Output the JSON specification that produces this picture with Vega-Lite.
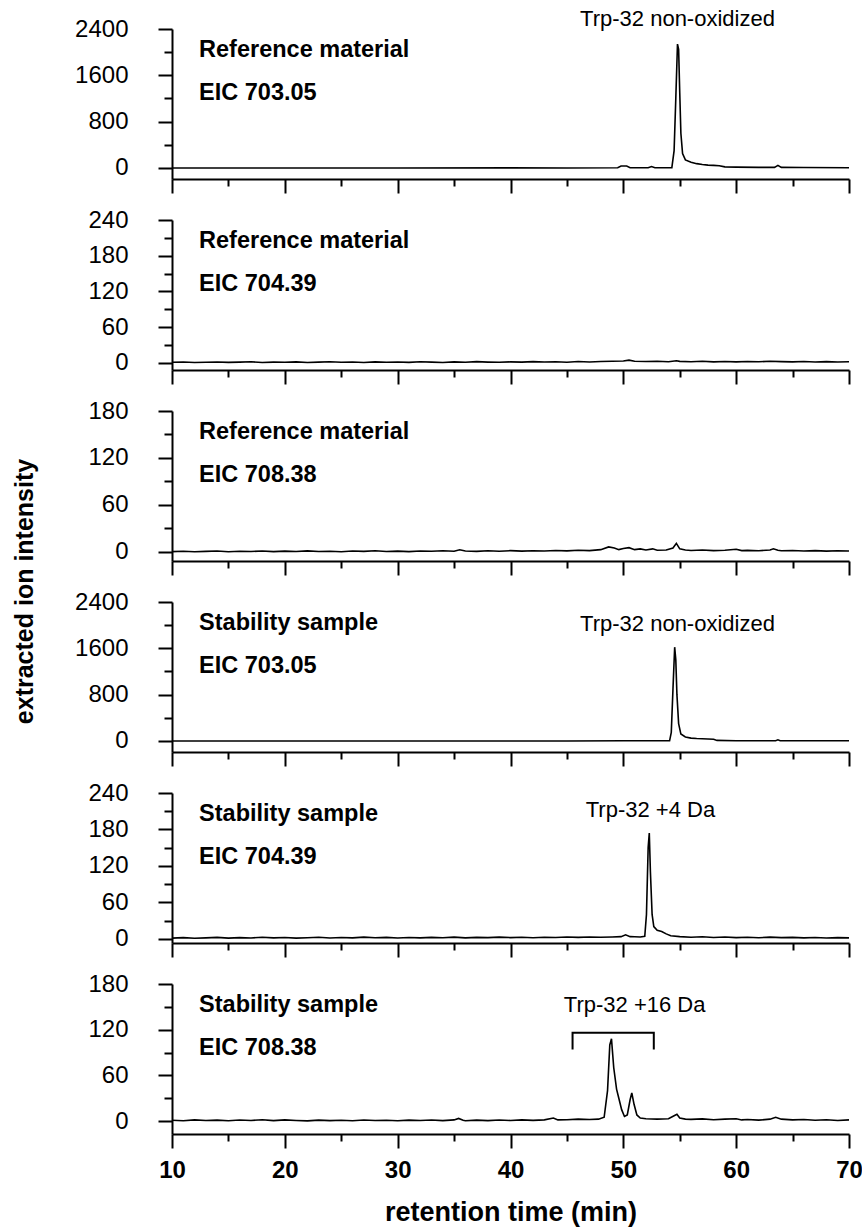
{
  "$schema": "https://vega.github.io/schema/vega-lite/v6.json",
  "padding": {"left": 12, "top": 7, "right": 0, "bottom": 2},
  "bounds": "flush",
  "spacing": 41,
  "title": {"text": "extracted ion intensity", "orient": "left", "anchor": "middle", "font": "Liberation Sans", "fontSize": 25, "fontWeight": "bold", "color": "black", "offset": 37, "dx": 25},
  "datasets": {
    "trace": [
      {"p":1,"t":10,"v":0},{"p":1,"t":20,"v":0},{"p":1,"t":30,"v":0},{"p":1,"t":40,"v":2},{"p":1,"t":45,"v":0},{"p":1,"t":49.5,"v":5},{"p":1,"t":49.8,"v":35},{"p":1,"t":50.3,"v":35},{"p":1,"t":50.6,"v":5},{"p":1,"t":52.2,"v":5},{"p":1,"t":52.5,"v":25},{"p":1,"t":52.8,"v":5},{"p":1,"t":54.3,"v":5},{"p":1,"t":54.5,"v":300},{"p":1,"t":54.65,"v":1200},{"p":1,"t":54.8,"v":2140},{"p":1,"t":54.9,"v":2050},{"p":1,"t":55.0,"v":1300},{"p":1,"t":55.1,"v":600},{"p":1,"t":55.25,"v":250},{"p":1,"t":55.5,"v":140},{"p":1,"t":56,"v":100},{"p":1,"t":56.5,"v":75},{"p":1,"t":57,"v":60},{"p":1,"t":57.5,"v":50},{"p":1,"t":58,"v":45},{"p":1,"t":58.5,"v":40},{"p":1,"t":59,"v":20},{"p":1,"t":60,"v":15},{"p":1,"t":62,"v":10},{"p":1,"t":63.4,"v":10},{"p":1,"t":63.7,"v":45},{"p":1,"t":64,"v":10},{"p":1,"t":66,"v":8},{"p":1,"t":70,"v":5},

      {"p":2,"t":10,"v":1},{"p":2,"t":11,"v":1.5},{"p":2,"t":12,"v":0.5},{"p":2,"t":13,"v":1},{"p":2,"t":14,"v":1.5},{"p":2,"t":15,"v":0.8},{"p":2,"t":16,"v":1.2},{"p":2,"t":17,"v":1.8},{"p":2,"t":18,"v":0.6},{"p":2,"t":19,"v":1.3},{"p":2,"t":20,"v":1},{"p":2,"t":21,"v":1.6},{"p":2,"t":22,"v":0.7},{"p":2,"t":23,"v":1.2},{"p":2,"t":24,"v":1.9},{"p":2,"t":25,"v":0.9},{"p":2,"t":26,"v":1.4},{"p":2,"t":27,"v":0.6},{"p":2,"t":28,"v":1.7},{"p":2,"t":29,"v":1.1},{"p":2,"t":30,"v":1.4},{"p":2,"t":31,"v":0.8},{"p":2,"t":32,"v":1.9},{"p":2,"t":33,"v":1.2},{"p":2,"t":34,"v":0.7},{"p":2,"t":35,"v":1.6},{"p":2,"t":36,"v":1.1},{"p":2,"t":37,"v":2},{"p":2,"t":38,"v":1.3},{"p":2,"t":39,"v":0.9},{"p":2,"t":40,"v":1.7},{"p":2,"t":41,"v":1.2},{"p":2,"t":42,"v":2.1},{"p":2,"t":43,"v":1.4},{"p":2,"t":44,"v":1.8},{"p":2,"t":45,"v":1.1},{"p":2,"t":46,"v":2.2},{"p":2,"t":47,"v":1.5},{"p":2,"t":48,"v":2.3},{"p":2,"t":49,"v":2.8},{"p":2,"t":50,"v":3.2},{"p":2,"t":50.5,"v":4.5},{"p":2,"t":51,"v":2.6},{"p":2,"t":52,"v":2.2},{"p":2,"t":53,"v":2.8},{"p":2,"t":54,"v":1.9},{"p":2,"t":54.7,"v":3.5},{"p":2,"t":55,"v":2.5},{"p":2,"t":56,"v":1.8},{"p":2,"t":57,"v":2.6},{"p":2,"t":58,"v":1.7},{"p":2,"t":59,"v":2.3},{"p":2,"t":60,"v":1.6},{"p":2,"t":61,"v":2.4},{"p":2,"t":62,"v":1.9},{"p":2,"t":63,"v":2.7},{"p":2,"t":64,"v":2},{"p":2,"t":65,"v":1.6},{"p":2,"t":66,"v":2.2},{"p":2,"t":67,"v":1.5},{"p":2,"t":68,"v":2},{"p":2,"t":69,"v":1.4},{"p":2,"t":70,"v":1.8},

      {"p":3,"t":10,"v":0.5},{"p":3,"t":11,"v":1},{"p":3,"t":12,"v":0.3},{"p":3,"t":13,"v":0.8},{"p":3,"t":14,"v":1.2},{"p":3,"t":15,"v":0.4},{"p":3,"t":16,"v":1},{"p":3,"t":17,"v":0.6},{"p":3,"t":18,"v":1.3},{"p":3,"t":19,"v":0.5},{"p":3,"t":20,"v":1.1},{"p":3,"t":21,"v":0.7},{"p":3,"t":22,"v":1.4},{"p":3,"t":23,"v":0.6},{"p":3,"t":24,"v":1},{"p":3,"t":25,"v":0.4},{"p":3,"t":26,"v":1.2},{"p":3,"t":27,"v":0.8},{"p":3,"t":28,"v":1.5},{"p":3,"t":29,"v":0.7},{"p":3,"t":30,"v":1.1},{"p":3,"t":31,"v":0.5},{"p":3,"t":32,"v":1.3},{"p":3,"t":33,"v":0.9},{"p":3,"t":34,"v":1.6},{"p":3,"t":35,"v":1},{"p":3,"t":35.5,"v":2.8},{"p":3,"t":36,"v":1.2},{"p":3,"t":37,"v":0.8},{"p":3,"t":38,"v":1.5},{"p":3,"t":39,"v":1},{"p":3,"t":40,"v":1.7},{"p":3,"t":41,"v":1.1},{"p":3,"t":42,"v":1.6},{"p":3,"t":43,"v":1.2},{"p":3,"t":44,"v":2},{"p":3,"t":45,"v":1.4},{"p":3,"t":46,"v":2.2},{"p":3,"t":47,"v":1.8},{"p":3,"t":48,"v":3},{"p":3,"t":48.7,"v":6.5},{"p":3,"t":49.2,"v":5},{"p":3,"t":49.6,"v":3},{"p":3,"t":50,"v":4.5},{"p":3,"t":50.5,"v":5.5},{"p":3,"t":51,"v":3},{"p":3,"t":51.5,"v":4},{"p":3,"t":52,"v":2.5},{"p":3,"t":52.6,"v":4},{"p":3,"t":53,"v":2.2},{"p":3,"t":53.8,"v":2.5},{"p":3,"t":54.4,"v":5},{"p":3,"t":54.7,"v":11},{"p":3,"t":55,"v":4},{"p":3,"t":55.5,"v":2.5},{"p":3,"t":56,"v":2},{"p":3,"t":57,"v":2.6},{"p":3,"t":58,"v":1.8},{"p":3,"t":59,"v":2.2},{"p":3,"t":60,"v":3.5},{"p":3,"t":60.5,"v":1.8},{"p":3,"t":61,"v":2.1},{"p":3,"t":62,"v":1.6},{"p":3,"t":63,"v":2.5},{"p":3,"t":63.3,"v":4},{"p":3,"t":63.7,"v":2.2},{"p":3,"t":64,"v":1.5},{"p":3,"t":65,"v":1.9},{"p":3,"t":66,"v":1.2},{"p":3,"t":67,"v":1.7},{"p":3,"t":68,"v":1.1},{"p":3,"t":69,"v":1.5},{"p":3,"t":70,"v":1.2},

      {"p":4,"t":10,"v":0},{"p":4,"t":30,"v":0},{"p":4,"t":45,"v":0},{"p":4,"t":50,"v":3},{"p":4,"t":54.1,"v":3},{"p":4,"t":54.25,"v":150},{"p":4,"t":54.4,"v":900},{"p":4,"t":54.55,"v":1620},{"p":4,"t":54.65,"v":1400},{"p":4,"t":54.75,"v":800},{"p":4,"t":54.9,"v":300},{"p":4,"t":55.1,"v":120},{"p":4,"t":55.5,"v":70},{"p":4,"t":56,"v":50},{"p":4,"t":56.5,"v":42},{"p":4,"t":57,"v":38},{"p":4,"t":57.5,"v":35},{"p":4,"t":58,"v":30},{"p":4,"t":58.3,"v":10},{"p":4,"t":60,"v":5},{"p":4,"t":63.5,"v":5},{"p":4,"t":63.7,"v":20},{"p":4,"t":63.9,"v":5},{"p":4,"t":70,"v":3},

      {"p":5,"t":10,"v":1},{"p":5,"t":11,"v":1.8},{"p":5,"t":12,"v":0.8},{"p":5,"t":13,"v":1.5},{"p":5,"t":14,"v":2.2},{"p":5,"t":15,"v":1.1},{"p":5,"t":16,"v":1.9},{"p":5,"t":17,"v":1.2},{"p":5,"t":18,"v":2.5},{"p":5,"t":19,"v":1.4},{"p":5,"t":20,"v":2},{"p":5,"t":21,"v":1},{"p":5,"t":22,"v":1.7},{"p":5,"t":23,"v":2.4},{"p":5,"t":24,"v":1.3},{"p":5,"t":25,"v":2.1},{"p":5,"t":26,"v":1.5},{"p":5,"t":27,"v":2.6},{"p":5,"t":28,"v":1.6},{"p":5,"t":29,"v":2.2},{"p":5,"t":30,"v":1.3},{"p":5,"t":31,"v":2},{"p":5,"t":32,"v":1.4},{"p":5,"t":33,"v":2.3},{"p":5,"t":34,"v":1.7},{"p":5,"t":35,"v":2.6},{"p":5,"t":36,"v":1.5},{"p":5,"t":37,"v":2.2},{"p":5,"t":38,"v":1.8},{"p":5,"t":39,"v":2.7},{"p":5,"t":40,"v":1.9},{"p":5,"t":41,"v":2.4},{"p":5,"t":42,"v":1.7},{"p":5,"t":43,"v":2.5},{"p":5,"t":44,"v":2},{"p":5,"t":45,"v":2.8},{"p":5,"t":46,"v":2.2},{"p":5,"t":47,"v":2.9},{"p":5,"t":48,"v":2.4},{"p":5,"t":49,"v":3},{"p":5,"t":49.8,"v":3.5},{"p":5,"t":50.2,"v":6.5},{"p":5,"t":50.6,"v":3.5},{"p":5,"t":51,"v":3.2},{"p":5,"t":51.5,"v":3},{"p":5,"t":51.9,"v":4},{"p":5,"t":52.05,"v":40},{"p":5,"t":52.2,"v":150},{"p":5,"t":52.3,"v":174},{"p":5,"t":52.4,"v":110},{"p":5,"t":52.55,"v":40},{"p":5,"t":52.7,"v":20},{"p":5,"t":53,"v":14},{"p":5,"t":53.4,"v":12},{"p":5,"t":53.8,"v":8},{"p":5,"t":54.2,"v":5},{"p":5,"t":55,"v":3.5},{"p":5,"t":56,"v":2.5},{"p":5,"t":57,"v":3.2},{"p":5,"t":58,"v":2},{"p":5,"t":59,"v":2.8},{"p":5,"t":60,"v":1.9},{"p":5,"t":61,"v":2.5},{"p":5,"t":62,"v":1.7},{"p":5,"t":63,"v":2.6},{"p":5,"t":64,"v":1.8},{"p":5,"t":65,"v":2.3},{"p":5,"t":66,"v":1.5},{"p":5,"t":67,"v":2.1},{"p":5,"t":68,"v":1.3},{"p":5,"t":69,"v":1.9},{"p":5,"t":70,"v":1.4},

      {"p":6,"t":10,"v":1},{"p":6,"t":11,"v":0.5},{"p":6,"t":12,"v":1.5},{"p":6,"t":13,"v":0.8},{"p":6,"t":14,"v":1.2},{"p":6,"t":15,"v":0.4},{"p":6,"t":16,"v":1.3},{"p":6,"t":17,"v":0.7},{"p":6,"t":18,"v":1.8},{"p":6,"t":19,"v":0.6},{"p":6,"t":20,"v":1.5},{"p":6,"t":21,"v":0.8},{"p":6,"t":22,"v":0.3},{"p":6,"t":23,"v":1.2},{"p":6,"t":24,"v":0.6},{"p":6,"t":25,"v":1},{"p":6,"t":26,"v":0.4},{"p":6,"t":27,"v":1.3},{"p":6,"t":28,"v":0.7},{"p":6,"t":29,"v":1.1},{"p":6,"t":30,"v":0.5},{"p":6,"t":31,"v":1.2},{"p":6,"t":32,"v":0.8},{"p":6,"t":33,"v":1.4},{"p":6,"t":34,"v":0.6},{"p":6,"t":35,"v":1.5},{"p":6,"t":35.4,"v":3.5},{"p":6,"t":35.8,"v":1},{"p":6,"t":36,"v":0.5},{"p":6,"t":37,"v":1.2},{"p":6,"t":38,"v":0.6},{"p":6,"t":39,"v":1.3},{"p":6,"t":40,"v":0.8},{"p":6,"t":41,"v":1.5},{"p":6,"t":42,"v":0.9},{"p":6,"t":43,"v":1.6},{"p":6,"t":43.8,"v":4},{"p":6,"t":44.2,"v":1.5},{"p":6,"t":45,"v":1.8},{"p":6,"t":46,"v":2.5},{"p":6,"t":47,"v":2},{"p":6,"t":47.8,"v":2.5},{"p":6,"t":48.3,"v":5},{"p":6,"t":48.6,"v":40},{"p":6,"t":48.8,"v":100},{"p":6,"t":48.95,"v":108},{"p":6,"t":49.15,"v":70},{"p":6,"t":49.4,"v":42},{"p":6,"t":49.6,"v":30},{"p":6,"t":49.85,"v":15},{"p":6,"t":50.1,"v":6},{"p":6,"t":50.35,"v":8},{"p":6,"t":50.6,"v":28},{"p":6,"t":50.75,"v":37},{"p":6,"t":50.95,"v":22},{"p":6,"t":51.2,"v":8},{"p":6,"t":51.5,"v":4},{"p":6,"t":52,"v":3},{"p":6,"t":53,"v":2.5},{"p":6,"t":54,"v":3},{"p":6,"t":54.5,"v":7},{"p":6,"t":54.75,"v":9},{"p":6,"t":55,"v":4},{"p":6,"t":55.5,"v":2.5},{"p":6,"t":56,"v":2.2},{"p":6,"t":57,"v":2.8},{"p":6,"t":58,"v":1.8},{"p":6,"t":59,"v":2.5},{"p":6,"t":60,"v":3},{"p":6,"t":60.5,"v":1.5},{"p":6,"t":61,"v":2},{"p":6,"t":62,"v":1.2},{"p":6,"t":63,"v":2.5},{"p":6,"t":63.5,"v":5},{"p":6,"t":64,"v":2.5},{"p":6,"t":65,"v":1.5},{"p":6,"t":66,"v":2},{"p":6,"t":67,"v":1},{"p":6,"t":68,"v":1.8},{"p":6,"t":69,"v":0.8},{"p":6,"t":70,"v":1.5}
    ],
    "sample": [
      {"p":1,"t":12.4,"v":2037,"text":"Reference material"},{"p":1,"t":12.4,"v":1295,"text":"EIC 703.05"},
      {"p":2,"t":12.4,"v":205,"text":"Reference material"},{"p":2,"t":12.4,"v":132,"text":"EIC 704.39"},
      {"p":3,"t":12.4,"v":153,"text":"Reference material"},{"p":3,"t":12.4,"v":98,"text":"EIC 708.38"},
      {"p":4,"t":12.4,"v":2037,"text":"Stability sample"},{"p":4,"t":12.4,"v":1295,"text":"EIC 703.05"},
      {"p":5,"t":12.4,"v":205,"text":"Stability sample"},{"p":5,"t":12.4,"v":135,"text":"EIC 704.39"},
      {"p":6,"t":12.4,"v":152,"text":"Stability sample"},{"p":6,"t":12.4,"v":96,"text":"EIC 708.38"}
    ],
    "peak": [
      {"p":1,"t":54.8,"v":2573,"text":"Trp-32 non-oxidized"},
      {"p":4,"t":54.8,"v":2020,"text":"Trp-32 non-oxidized"},
      {"p":5,"t":52.4,"v":212,"text":"Trp-32 +4 Da"},
      {"p":6,"t":51.0,"v":152,"text":"Trp-32 +16 Da"}
    ],
    "bracket": [
      {"i":1,"t":45.5,"v":94},{"i":2,"t":45.5,"v":116},{"i":3,"t":52.7,"v":116},{"i":4,"t":52.7,"v":94}
    ]
  },
  "vconcat": [
    {
      "width": 677, "height": 150,
      "layer": [
        {"data": {"name": "trace"}, "transform": [{"filter": "datum.p == 1"}], "mark": {"type": "line", "color": "black", "strokeWidth": 1.6},
         "encoding": {
           "x": {"field": "t", "type": "quantitative", "scale": {"domain": [10, 70]}, "axis": {"values": [10,15,20,25,30,35,40,45,50,55,60,65,70], "labels": false, "title": null, "tickSize": {"condition": {"test": "datum.value % 10 === 0", "value": 14}, "value": 7}}},
           "y": {"field": "v", "type": "quantitative", "scale": {"domain": [-190, 2400], "nice": false}, "axis": {"values": [0,400,800,1200,1600,2000,2400], "labelExpr": "datum.value % 800 === 0 ? datum.label : ''", "title": null, "tickSize": {"condition": {"test": "datum.value % 800 === 0", "value": 14}, "value": 8}}}
         }},
        {"data": {"name": "sample"}, "transform": [{"filter": "datum.p == 1"}], "mark": {"type": "text", "align": "left", "baseline": "middle", "font": "Liberation Sans", "fontSize": 23.5, "fontWeight": "bold", "color": "black"},
         "encoding": {"x": {"field": "t", "type": "quantitative"}, "y": {"field": "v", "type": "quantitative"}, "text": {"field": "text"}}},
        {"data": {"name": "peak"}, "transform": [{"filter": "datum.p == 1"}], "mark": {"type": "text", "align": "center", "baseline": "middle", "font": "Liberation Sans", "fontSize": 22, "color": "black"},
         "encoding": {"x": {"field": "t", "type": "quantitative"}, "y": {"field": "v", "type": "quantitative"}, "text": {"field": "text"}}}
      ]
    },
    {
      "width": 677, "height": 150,
      "layer": [
        {"data": {"name": "trace"}, "transform": [{"filter": "datum.p == 2"}], "mark": {"type": "line", "color": "black", "strokeWidth": 1.6},
         "encoding": {
           "x": {"field": "t", "type": "quantitative", "scale": {"domain": [10, 70]}, "axis": {"values": [10,15,20,25,30,35,40,45,50,55,60,65,70], "labels": false, "title": null, "tickSize": {"condition": {"test": "datum.value % 10 === 0", "value": 14}, "value": 7}}},
           "y": {"field": "v", "type": "quantitative", "scale": {"domain": [-12, 240], "nice": false}, "axis": {"values": [0,30,60,90,120,150,180,210,240], "labelExpr": "datum.value % 60 === 0 ? datum.label : ''", "title": null, "tickSize": {"condition": {"test": "datum.value % 60 === 0", "value": 14}, "value": 8}}}
         }},
        {"data": {"name": "sample"}, "transform": [{"filter": "datum.p == 2"}], "mark": {"type": "text", "align": "left", "baseline": "middle", "font": "Liberation Sans", "fontSize": 23.5, "fontWeight": "bold", "color": "black"},
         "encoding": {"x": {"field": "t", "type": "quantitative"}, "y": {"field": "v", "type": "quantitative"}, "text": {"field": "text"}}}
      ]
    },
    {
      "width": 677, "height": 150,
      "layer": [
        {"data": {"name": "trace"}, "transform": [{"filter": "datum.p == 3"}], "mark": {"type": "line", "color": "black", "strokeWidth": 1.6},
         "encoding": {
           "x": {"field": "t", "type": "quantitative", "scale": {"domain": [10, 70]}, "axis": {"values": [10,15,20,25,30,35,40,45,50,55,60,65,70], "labels": false, "title": null, "tickSize": {"condition": {"test": "datum.value % 10 === 0", "value": 14}, "value": 7}}},
           "y": {"field": "v", "type": "quantitative", "scale": {"domain": [-11.5, 180], "nice": false}, "axis": {"values": [0,30,60,90,120,150,180], "labelExpr": "datum.value % 60 === 0 ? datum.label : ''", "title": null, "tickSize": {"condition": {"test": "datum.value % 60 === 0", "value": 14}, "value": 8}}}
         }},
        {"data": {"name": "sample"}, "transform": [{"filter": "datum.p == 3"}], "mark": {"type": "text", "align": "left", "baseline": "middle", "font": "Liberation Sans", "fontSize": 23.5, "fontWeight": "bold", "color": "black"},
         "encoding": {"x": {"field": "t", "type": "quantitative"}, "y": {"field": "v", "type": "quantitative"}, "text": {"field": "text"}}}
      ]
    },
    {
      "width": 677, "height": 150,
      "layer": [
        {"data": {"name": "trace"}, "transform": [{"filter": "datum.p == 4"}], "mark": {"type": "line", "color": "black", "strokeWidth": 1.6},
         "encoding": {
           "x": {"field": "t", "type": "quantitative", "scale": {"domain": [10, 70]}, "axis": {"values": [10,15,20,25,30,35,40,45,50,55,60,65,70], "labels": false, "title": null, "tickSize": {"condition": {"test": "datum.value % 10 === 0", "value": 14}, "value": 7}}},
           "y": {"field": "v", "type": "quantitative", "scale": {"domain": [-190, 2400], "nice": false}, "axis": {"values": [0,400,800,1200,1600,2000,2400], "labelExpr": "datum.value % 800 === 0 ? datum.label : ''", "title": null, "tickSize": {"condition": {"test": "datum.value % 800 === 0", "value": 14}, "value": 8}}}
         }},
        {"data": {"name": "sample"}, "transform": [{"filter": "datum.p == 4"}], "mark": {"type": "text", "align": "left", "baseline": "middle", "font": "Liberation Sans", "fontSize": 23.5, "fontWeight": "bold", "color": "black"},
         "encoding": {"x": {"field": "t", "type": "quantitative"}, "y": {"field": "v", "type": "quantitative"}, "text": {"field": "text"}}},
        {"data": {"name": "peak"}, "transform": [{"filter": "datum.p == 4"}], "mark": {"type": "text", "align": "center", "baseline": "middle", "font": "Liberation Sans", "fontSize": 22, "color": "black"},
         "encoding": {"x": {"field": "t", "type": "quantitative"}, "y": {"field": "v", "type": "quantitative"}, "text": {"field": "text"}}}
      ]
    },
    {
      "width": 677, "height": 150,
      "layer": [
        {"data": {"name": "trace"}, "transform": [{"filter": "datum.p == 5"}], "mark": {"type": "line", "color": "black", "strokeWidth": 1.6},
         "encoding": {
           "x": {"field": "t", "type": "quantitative", "scale": {"domain": [10, 70]}, "axis": {"values": [10,15,20,25,30,35,40,45,50,55,60,65,70], "labels": false, "title": null, "tickSize": {"condition": {"test": "datum.value % 10 === 0", "value": 14}, "value": 7}}},
           "y": {"field": "v", "type": "quantitative", "scale": {"domain": [-7, 240], "nice": false}, "axis": {"values": [0,30,60,90,120,150,180,210,240], "labelExpr": "datum.value % 60 === 0 ? datum.label : ''", "title": null, "tickSize": {"condition": {"test": "datum.value % 60 === 0", "value": 14}, "value": 8}}}
         }},
        {"data": {"name": "sample"}, "transform": [{"filter": "datum.p == 5"}], "mark": {"type": "text", "align": "left", "baseline": "middle", "font": "Liberation Sans", "fontSize": 23.5, "fontWeight": "bold", "color": "black"},
         "encoding": {"x": {"field": "t", "type": "quantitative"}, "y": {"field": "v", "type": "quantitative"}, "text": {"field": "text"}}},
        {"data": {"name": "peak"}, "transform": [{"filter": "datum.p == 5"}], "mark": {"type": "text", "align": "center", "baseline": "middle", "font": "Liberation Sans", "fontSize": 22, "color": "black"},
         "encoding": {"x": {"field": "t", "type": "quantitative"}, "y": {"field": "v", "type": "quantitative"}, "text": {"field": "text"}}}
      ]
    },
    {
      "width": 677, "height": 150,
      "layer": [
        {"data": {"name": "trace"}, "transform": [{"filter": "datum.p == 6"}], "mark": {"type": "line", "color": "black", "strokeWidth": 1.6},
         "encoding": {
           "x": {"field": "t", "type": "quantitative", "scale": {"domain": [10, 70]}, "axis": {"values": [10,15,20,25,30,35,40,45,50,55,60,65,70], "labelExpr": "datum.value % 10 === 0 ? datum.label : ''", "labelFontWeight": "bold", "labelFontSize": 24, "labelPadding": 10, "title": "retention time (min)", "titleFontSize": 27, "titleFontWeight": "bold", "titlePadding": 17, "tickSize": {"condition": {"test": "datum.value % 10 === 0", "value": 14}, "value": 7}}},
           "y": {"field": "v", "type": "quantitative", "scale": {"domain": [-17, 180], "nice": false}, "axis": {"values": [0,30,60,90,120,150,180], "labelExpr": "datum.value % 60 === 0 ? datum.label : ''", "title": null, "tickSize": {"condition": {"test": "datum.value % 60 === 0", "value": 14}, "value": 8}}}
         }},
        {"data": {"name": "sample"}, "transform": [{"filter": "datum.p == 6"}], "mark": {"type": "text", "align": "left", "baseline": "middle", "font": "Liberation Sans", "fontSize": 23.5, "fontWeight": "bold", "color": "black"},
         "encoding": {"x": {"field": "t", "type": "quantitative"}, "y": {"field": "v", "type": "quantitative"}, "text": {"field": "text"}}},
        {"data": {"name": "peak"}, "transform": [{"filter": "datum.p == 6"}], "mark": {"type": "text", "align": "center", "baseline": "middle", "font": "Liberation Sans", "fontSize": 22, "color": "black"},
         "encoding": {"x": {"field": "t", "type": "quantitative"}, "y": {"field": "v", "type": "quantitative"}, "text": {"field": "text"}}},
        {"data": {"name": "bracket"}, "mark": {"type": "line", "color": "black", "strokeWidth": 2},
         "encoding": {"x": {"field": "t", "type": "quantitative"}, "y": {"field": "v", "type": "quantitative"}, "order": {"field": "i", "type": "quantitative"}}}
      ]
    }
  ],
  "config": {
    "view": {"stroke": null},
    "font": "Liberation Sans",
    "axis": {"grid": false, "domainColor": "black", "domainWidth": 2, "tickColor": "black", "tickWidth": 2, "tickCount": 30, "format": "d", "labelColor": "black", "labelFont": "Liberation Sans", "labelFontSize": 24, "labelFlush": false, "labelOverlap": false, "titleColor": "black", "titleFont": "Liberation Sans"},
    "axisY": {"labelPadding": 30}
  }
}
